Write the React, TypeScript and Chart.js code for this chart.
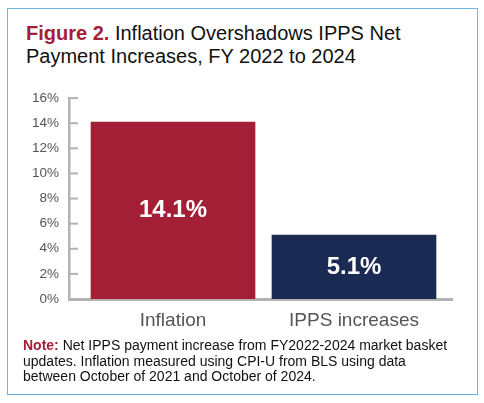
import React, { useEffect, useRef } from 'react';
import { Chart, registerables } from 'chart.js';

Chart.register(...registerables);

const categories = ['Inflation', 'IPPS increases'];
const values = [14.1, 5.1];
const barColors = ['#a31f36', '#1b2a52'];
const yTicks = [0, 2, 4, 6, 8, 10, 12, 14, 16];

const FONT = '"Liberation Sans", Arial, sans-serif';

// small tick marks pointing into the plot, like the original
const innerTicks = {
  id: 'innerTicks',
  afterDraw(chart: any) {
    const { ctx, chartArea, scales } = chart;
    ctx.save();
    ctx.strokeStyle = '#b3b3b3';
    ctx.lineWidth = 2;
    yTicks.forEach(v => {
      const y = scales.y.getPixelForValue(v);
      ctx.beginPath();
      ctx.moveTo(chartArea.left, y);
      ctx.lineTo(chartArea.left + 9, y);
      ctx.stroke();
    });
    ctx.restore();
  }
};

const barLabels = {
  id: 'barLabels',
  afterDatasetsDraw(chart: any) {
    const { ctx } = chart;
    const meta = chart.getDatasetMeta(0);
    ctx.save();
    ctx.fillStyle = '#ffffff';
    ctx.font = `bold 24px ${FONT}`;
    ctx.textAlign = 'center';
    ctx.textBaseline = 'middle';
    meta.data.forEach((bar: any, i: number) => {
      ctx.fillText(values[i].toFixed(1) + '%', bar.x, (bar.y + bar.base) / 2);
    });
    ctx.restore();
  }
};

const App: React.FC = () => {
  const canvasRef = useRef<HTMLCanvasElement>(null);

  useEffect(() => {
    if (!canvasRef.current) return;
    const chart = new Chart(canvasRef.current, {
      type: 'bar',
      data: {
        datasets: [{
          data: values.map((v, i) => ({ x: i, y: v })),
          backgroundColor: barColors,
          barThickness: 164,
          borderWidth: 0
        }]
      },
      options: {
        animation: false,
        responsive: false,
        devicePixelRatio: 1,
        layout: { padding: { left: 0, top: 15, right: 32, bottom: 0 } },
        plugins: {
          legend: { display: false },
          tooltip: { enabled: false }
        },
        scales: {
          x: {
            type: 'linear',
            offset: false,
            min: -0.5746,
            max: 1.5414,
            afterBuildTicks: (scale: any) => {
              scale.ticks = categories.map((_, i) => ({ value: i }));
            },
            afterFit: (scale: any) => { scale.height = 41; },
            grid: { display: false, drawTicks: false },
            border: { display: true, color: '#b3b3b3', width: 3 },
            ticks: {
              padding: 10,
              color: '#555555',
              font: { family: FONT, size: 19 },
              callback: (v: any) => categories[v] ?? ''
            }
          },
          y: {
            min: 0,
            max: 16,
            afterBuildTicks: (scale: any) => {
              scale.ticks = yTicks.map(v => ({ value: v }));
            },
            afterFit: (scale: any) => { scale.width = 69; },
            grid: { display: false, drawTicks: false },
            border: { display: true, color: '#b3b3b3', width: 2.5 },
            ticks: {
              padding: 10,
              color: '#555555',
              font: { family: FONT, size: 13.5 },
              callback: (v: any) => `${v}%`
            }
          }
        }
      },
      plugins: [innerTicks, barLabels]
    });
    return () => chart.destroy();
  }, []);

  return (
    <div style={{ position: 'absolute', left: 0, top: 0, width: 484, height: 403, background: '#fff', fontFamily: FONT }}>
      <div style={{
        position: 'absolute', left: 7, top: 8, width: 471, height: 387,
        border: '1.5px solid #6cb4e6', boxSizing: 'border-box'
      }} />
      <div style={{ position: 'absolute', left: 26, top: 22, fontSize: 20, lineHeight: '23px', color: '#111' }}>
        <span style={{ color: '#a31f36', fontWeight: 'bold' }}>Figure 2.</span> Inflation Overshadows IPPS Net<br />
        Payment Increases, FY 2022 to 2024
      </div>
      <canvas ref={canvasRef} width={484} height={260}
        style={{ position: 'absolute', left: 0, top: 80, width: 484, height: 260 }} />
      <div style={{ position: 'absolute', left: 23, top: 338, fontSize: 14, lineHeight: '15.5px', color: '#111' }}>
        <span style={{ color: '#a31f36', fontWeight: 'bold' }}>Note:</span> Net IPPS payment increase from FY2022-2024 market basket<br />
        updates. Inflation measured using CPI-U from BLS using data<br />
        between October of 2021 and October of 2024.
      </div>
    </div>
  );
};

export default App;
